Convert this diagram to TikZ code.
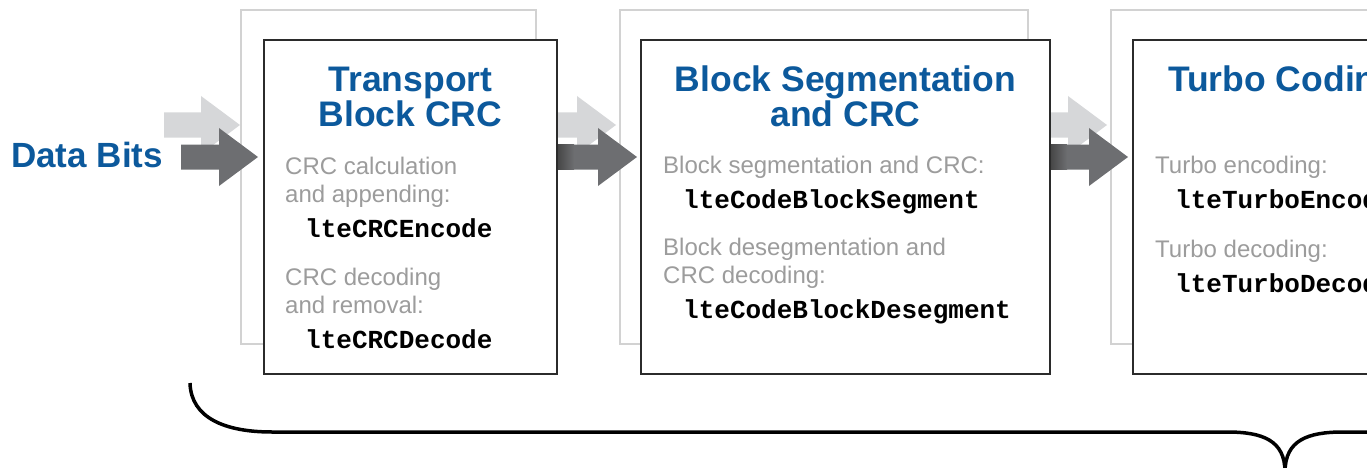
\documentclass[tikz,border=0pt]{standalone}
\usepackage{fontspec}
\setmainfont{Liberation Sans}
\setmonofont{Liberation Mono}
\usepackage{tikz}
\usetikzlibrary{calc,positioning}
\definecolor{titleblue}{HTML}{0C599C}
\definecolor{notegray}{HTML}{9C9C9C}
\definecolor{lightarrow}{HTML}{D6D7D9}
\definecolor{darkarrow}{HTML}{6D6E71}
\definecolor{backline}{HTML}{D2D2D2}
\definecolor{frontline}{HTML}{2B2B2B}
\newcommand\blockarrow[3][]{%
  \fill[#1] let \p1 = (#2), \p2 = (#3) in
    (\x1,\y1+12.5pt) -- (\x2-39pt,\y1+12.5pt) -- (\x2-39pt,\y1+29pt) -- (\x2,\y1)
    -- (\x2-39pt,\y1-29pt) -- (\x2-39pt,\y1-12.5pt) -- (\x1,\y1-12.5pt) -- cycle;}
\newcommand\arrowfade[1]{%
  \shade[left color=black!72, right color=darkarrow] let \p1 = (#1) in
    (\x1,\y1+12.5pt) rectangle (\x1+16pt,\y1-12.5pt);}

\begin{document}
\begin{tikzpicture}[x=1pt, y=-1pt,
  backbox/.style = {draw=backline, line width=1.5pt, inner sep=0pt, outer sep=0pt,
                    minimum width=#1, minimum height=334pt},
  frontbox/.style = {draw=frontline, fill=white, line width=2pt, inner sep=0pt, outer sep=0pt,
                     minimum width=#1, minimum height=334pt},
  title/.style = {anchor=base, align=center, inner sep=0pt, text=titleblue,
                  font=\fontsize{35.5}{35}\selectfont\bfseries},
  note/.style = {anchor=base west, align=left, inner sep=0pt, text=notegray,
                 font=\fontsize{24}{28}\selectfont},
  code/.style = {anchor=base west, inner sep=0pt, font=\fontsize{26}{28}\selectfont\ttfamily\bfseries}]
  \useasboundingbox (0,0) rectangle (1367,468);
  \clip (0,0) rectangle (1367,468);
  \coordinate (darkrow) at (0,157);
  \coordinate (lightrow) at (0,125);

  \node[anchor=base west, inner sep=0pt, text=titleblue, font=\fontsize{35}{35}\selectfont\bfseries]
    (bits) at (11,167) {Data Bits};

  \node[backbox=295pt] (back1) at (388.5,177) {};
  \node[backbox=408pt] (back2) at (824,177) {};
  \node[backbox=300pt] (back3) at (1261,177) {};

  \blockarrow[lightarrow]{[xshift=1pt]bits.east |- lightrow}{[xshift=-1pt]back1.west |- lightrow}
  \blockarrow[lightarrow]{back1.east |- lightrow}{[xshift=-4pt]back2.west |- lightrow}
  \blockarrow[lightarrow]{back2.east |- lightrow}{[xshift=-4pt]back3.west |- lightrow}

  \node[frontbox=293pt] (front1) at (410.5,207) {};
  \node[frontbox=409pt] (front2) at (845.5,207) {};
  \node[frontbox=300pt] (front3) at (1283,207) {};

  \blockarrow[darkarrow]{[xshift=18pt]bits.east |- darkrow}{[xshift=-6pt]front1.west |- darkrow}
  \blockarrow[darkarrow]{[xshift=1pt]front1.east |- darkrow}{[xshift=-4pt]front2.west |- darkrow}
  \blockarrow[darkarrow]{[xshift=1pt]front2.east |- darkrow}{[xshift=-5pt]front3.west |- darkrow}
  \arrowfade{[xshift=1pt]front1.east |- darkrow}
  \arrowfade{[xshift=1pt]front2.east |- darkrow}

  \node[title] (t1) at ($(front1.north)+(0,87)$) {Transport\\Block CRC};
  \node[note] (n1a) at ($(front1.north west)+(21,162)$) {CRC calculation\\and appending:};
  \node[code] (c1a) at ($(front1.north west)+(41,197)$) {lteCRCEncode};
  \node[note] (n1b) at ($(front1.north west)+(21,273)$) {CRC decoding\\and removal:};
  \node[code] (c1b) at ($(front1.north west)+(41,308)$) {lteCRCDecode};

  \node[title] (t2) at ($(front2.north)+(0,87)$) {Block Segmentation\\and CRC};
  \node[note] (n2a) at ($(front2.north west)+(22,133)$) {Block segmentation and CRC:};
  \node[code] (c2a) at ($(front2.north west)+(42,168)$) {lteCodeBlockSegment};
  \node[note] (n2b) at ($(front2.north west)+(22,243)$) {Block desegmentation and\\CRC decoding:};
  \node[code] (c2b) at ($(front2.north west)+(42,278)$) {lteCodeBlockDesegment};

  \node[title, anchor=base west] (t3) at ($(front3.north west)+(35,52)$) {Turbo Coding};
  \node[note] (n3a) at ($(front3.north west)+(22,133)$) {Turbo encoding:};
  \node[code] (c3a) at ($(front3.north west)+(42,168)$) {lteTurboEncode};
  \node[note] (n3b) at ($(front3.north west)+(22,217)$) {Turbo decoding:};
  \node[code] (c3b) at ($(front3.north west)+(42,252)$) {lteTurboDecode};

  \draw[line width=3.5pt] (190,383) .. controls (191,418) and (225,432) .. (272,432) -- (1227,432)
    .. controls (1262,432) and (1285,440) .. (1285,472)
    .. controls (1285,440) and (1308,432) .. (1343,432) -- (1400,432);
\end{tikzpicture}
\end{document}
